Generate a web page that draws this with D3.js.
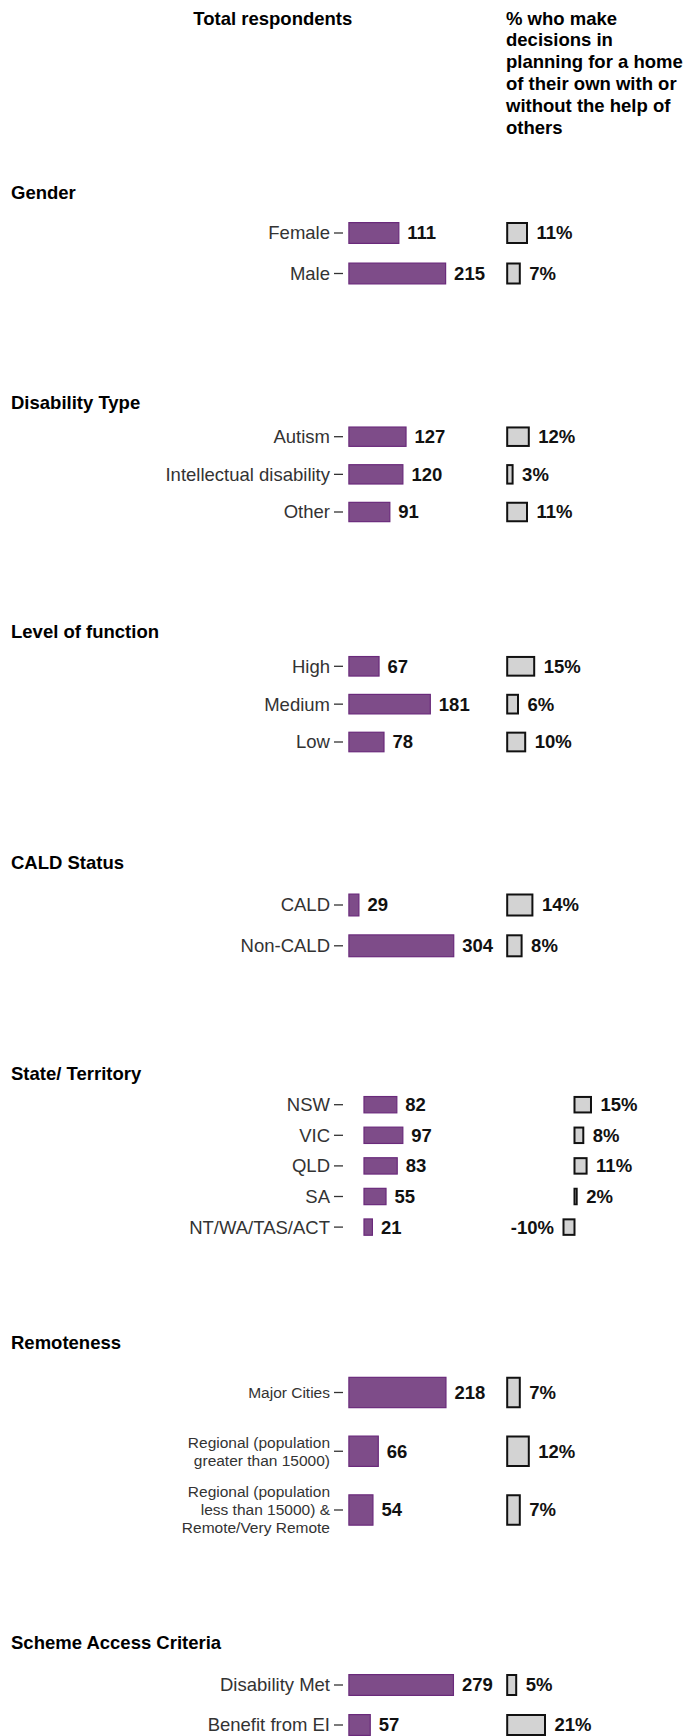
<!DOCTYPE html>
<html>
<head>
<meta charset="utf-8">
<script src="https://cdn.jsdelivr.net/npm/d3@7"></script>
<style>
  body { margin: 0; background: #fff; }
  svg { display: block; }
  text { font-family: "Liberation Sans", Arial, Helvetica, sans-serif; }
</style>
</head>
<body>
<script>
// data
const genderCats = ['Female', 'Male'];
const genderTotals = [111, 215];
const genderPct = [11, 7];

const disabilityCats = ['Autism', 'Intellectual disability', 'Other'];
const disabilityTotals = [127, 120, 91];
const disabilityPct = [12, 3, 11];

const functionCats = ['High', 'Medium', 'Low'];
const functionTotals = [67, 181, 78];
const functionPct = [15, 6, 10];

const caldCats = ['CALD', 'Non-CALD'];
const caldTotals = [29, 304];
const caldPct = [14, 8];

const stateCats = ['NSW', 'VIC', 'QLD', 'SA', 'NT/WA/TAS/ACT'];
const stateTotals = [82, 97, 83, 55, 21];
const statePct = [15, 8, 11, 2, -10];

const remoteCats = ['Major Cities', 'Regional (population\ngreater than 15000)', 'Regional (population\nless than 15000) &\nRemote/Very Remote'];
const remoteTotals = [218, 66, 54];
const remotePct = [7, 12, 7];

const schemeCats = ['Disability Met', 'Benefit from EI'];
const schemeTotals = [279, 57];
const schemePct = [5, 21];

const headerLeft = 'Total respondents';
const headerRight = ['% who make', 'decisions in', 'planning for a home', 'of their own with or', 'without the help of', 'others'];

// each panel is its own small chart with free x scales
const panels = [
  { title: 'Gender', cats: genderCats, totals: genderTotals, pct: genderPct,
    titleY: 198.5, y0: 233, step: 40.5, barH: 22, tot: [0, 289], pctDom: [0, 100] },
  { title: 'Disability Type', cats: disabilityCats, totals: disabilityTotals, pct: disabilityPct,
    titleY: 408.5, y0: 436.7, step: 37.65, barH: 20.5, tot: [0, 289], pctDom: [0, 100] },
  { title: 'Level of function', cats: functionCats, totals: functionTotals, pct: functionPct,
    titleY: 638, y0: 666.3, step: 37.85, barH: 20.7, tot: [0, 289], pctDom: [0, 100] },
  { title: 'CALD Status', cats: caldCats, totals: caldTotals, pct: caldPct,
    titleY: 869, y0: 905, step: 40.8, barH: 23, tot: [0, 377], pctDom: [0, 100] },
  { title: 'State/ Territory', cats: stateCats, totals: stateTotals, pct: statePct,
    titleY: 1080, y0: 1104.7, step: 30.6, barH: 17.5, tot: [-37.7, 287], pctDom: [-61.2, 102.5] },
  { title: 'Remoteness', cats: remoteCats, totals: remoteTotals, pct: remotePct,
    titleY: 1349, y0: 1392.5, step: 58.75, barH: 31.5, tot: [0, 292], pctDom: [0, 100], small: true },
  { title: 'Scheme Access Criteria', cats: schemeCats, totals: schemeTotals, pct: schemePct,
    titleY: 1649, y0: 1685, step: 40, barH: 22, tot: [0, 347], pctDom: [0, 100] }
];

const W = 689, H = 1736;
const fs = 18.5;
const purple = '#7e4c89', purpleEdge = '#6a2a7b';

const svg = d3.select('body').append('svg')
  .attr('width', W)
  .attr('height', H);

svg.append('text')
  .attr('x', 193.3).attr('y', 24.5)
  .style('font-size', fs + 'px').style('font-weight', 'bold')
  .text(headerLeft);

svg.append('g').selectAll('text')
  .data(headerRight)
  .enter().append('text')
  .attr('x', 506)
  .attr('y', (d, i) => 24.5 + i * 21.9)
  .style('font-size', fs + 'px').style('font-weight', 'bold')
  .text(d => d);

panels.forEach(p => {
  const g = svg.append('g');

  const x = d3.scaleLinear().domain(p.tot).range([348.9, 478.9]);
  const xp = d3.scaleLinear().domain(p.pctDom).range([507.2, 687.2]);
  const pad = 1 - p.barH / p.step;
  const y = d3.scaleBand()
    .domain(p.cats)
    .range([p.y0 - p.step / 2, p.y0 - p.step / 2 + p.cats.length * p.step])
    .paddingInner(pad)
    .paddingOuter(pad / 2);

  const rows = p.cats.map((c, i) => ({ cat: c, total: p.totals[i], pct: p.pct[i] }));

  g.append('text')
    .attr('x', 11).attr('y', p.titleY)
    .style('font-size', fs + 'px').style('font-weight', 'bold')
    .text(p.title);

  // category axis
  const axis = g.append('g')
    .attr('transform', 'translate(343,0)')
    .call(d3.axisLeft(y).tickSize(9).tickPadding(4));
  axis.select('.domain').remove();
  axis.selectAll('.tick line').attr('stroke', '#333').attr('stroke-width', 1.3);
  const lblSize = p.small ? 15.5 : fs;
  axis.selectAll('.tick text')
    .attr('fill', '#333')
    .style('font-size', lblSize + 'px')
    .style('font-family', '"Liberation Sans", Arial, sans-serif')
    .each(function(d) {
      const lines = d.split('\n');
      const t = d3.select(this).text(null).attr('dy', null);
      lines.forEach((ln, j) => {
        t.append('tspan')
          .attr('x', -13)
          .attr('y', 0)
          .attr('dy', ((j - (lines.length - 1) / 2) * 18 + lblSize * 0.35) + 'px')
          .text(ln);
      });
    });

  // total respondents bars
  g.selectAll('rect.tot')
    .data(rows)
    .enter().append('rect')
    .attr('class', 'tot')
    .attr('x', d => x(Math.min(0, d.total)))
    .attr('y', d => y(d.cat) + 0.6)
    .attr('width', d => Math.abs(x(d.total) - x(0)))
    .attr('height', y.bandwidth() - 1.2)
    .attr('fill', purple)
    .attr('stroke', purpleEdge)
    .attr('stroke-width', 1.2);

  g.selectAll('text.tot')
    .data(rows)
    .enter().append('text')
    .attr('class', 'tot')
    .attr('x', d => x(d.total) + 8.5)
    .attr('y', d => y(d.cat) + y.bandwidth() / 2)
    .attr('dy', '0.35em')
    .attr('fill', '#111')
    .style('font-size', fs + 'px').style('font-weight', 'bold')
    .text(d => d.total);

  // percentage boxes
  g.selectAll('rect.pct')
    .data(rows)
    .enter().append('rect')
    .attr('class', 'pct')
    .attr('x', d => xp(Math.min(0, d.pct)))
    .attr('y', d => y(d.cat) + 1)
    .attr('width', d => Math.abs(xp(d.pct) - xp(0)))
    .attr('height', y.bandwidth() - 2)
    .attr('fill', '#d3d3d3')
    .attr('stroke', '#111')
    .attr('stroke-width', 2);

  g.selectAll('text.pct')
    .data(rows)
    .enter().append('text')
    .attr('class', 'pct')
    .attr('x', d => d.pct < 0 ? xp(d.pct) - 9.5 : xp(d.pct) + 9.5)
    .attr('text-anchor', d => d.pct < 0 ? 'end' : 'start')
    .attr('y', d => y(d.cat) + y.bandwidth() / 2)
    .attr('dy', '0.35em')
    .attr('fill', '#111')
    .style('font-size', fs + 'px').style('font-weight', 'bold')
    .text(d => d.pct + '%');
});
</script>
</body>
</html>
